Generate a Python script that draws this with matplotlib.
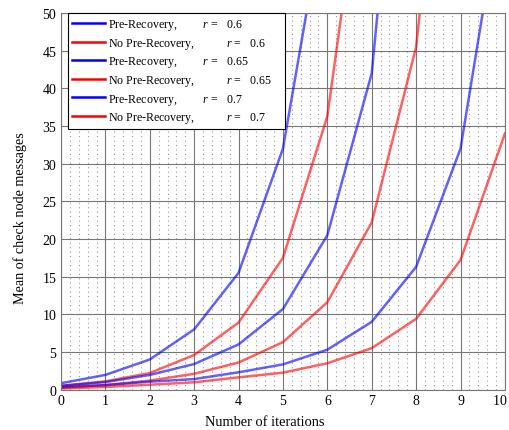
import matplotlib.pyplot as plt
from matplotlib.ticker import MultipleLocator
from matplotlib.lines import Line2D

plt.rcParams['font.family'] = ['Liberation Serif', 'DejaVu Serif']
plt.rcParams['mathtext.fontset'] = 'custom'
plt.rcParams['mathtext.it'] = 'Liberation Serif:italic'

iters = [0, 1, 2, 3, 4, 5, 6, 7, 8, 9, 10]
# trailing spaces nudge the last label left so it stays inside the figure
xtick_labels = ['0', '1', '2', '3', '4', '5', '6', '7', '8', '9', '10   ']

pre_06 = [0.85, 1.95, 4.0, 8.0, 15.5, 32.0, 66.0]
nopre_06 = [0.5, 1.1, 2.2, 4.6, 8.9, 17.5, 36.3, 79.0]
pre_065 = [0.5, 1.0, 1.95, 3.4, 6.0, 10.7, 20.5, 42.0, 103.0]
nopre_065 = [0.25, 0.6, 1.2, 2.1, 3.6, 6.3, 11.6, 22.2, 45.5, 100.0]
pre_07 = [0.3, 0.6, 1.05, 1.4, 2.3, 3.35, 5.3, 9.0, 16.3, 32.0, 68.0]
nopre_07 = [0.15, 0.35, 0.65, 0.97, 1.63, 2.25, 3.5, 5.5, 9.4, 17.2, 34.0]

series = [pre_06, nopre_06, pre_065, nopre_065, pre_07, nopre_07]
labels = ["Pre-Recovery,         $r$ =   0.6",
          "No Pre-Recovery,           $r$ =   0.6",
          "Pre-Recovery,         $r$ =   0.65",
          "No Pre-Recovery,           $r$ =   0.65    ",
          "Pre-Recovery,         $r$ =   0.7",
          "No Pre-Recovery,           $r$ =   0.7"]
colors = ['blue', 'red'] * 3

fig = plt.figure(figsize=(5.1, 4.31), dpi=100)
ax = fig.add_axes([0.1196, 0.0937, 0.8704, 0.8738])

for y, c in zip(series, colors):
    ax.plot(iters[:len(y)], y, color=c, alpha=0.62, lw=1.8)

ax.set_xlim(0, 10)
ax.set_ylim(0, 50)
ax.set_xticks(iters, xtick_labels)
ax.xaxis.set_minor_locator(MultipleLocator(0.2))
ax.yaxis.set_major_locator(MultipleLocator(5))
ax.grid(which='major', color='#777777', lw=0.8)
ax.grid(which='minor', axis='x', color='#999999', lw=0.8, ls=(0, (1, 3)))
ax.tick_params(which='both', direction='in', length=0, labelsize=10)
for s in ax.spines.values():
    s.set_color('#777777')

ax.set_xlabel("Number of iterations", fontsize=10.4)
ax.set_ylabel("Mean of check node messages", fontsize=10.2)
ax.xaxis.set_label_coords(0.46, -0.067)
ax.yaxis.set_label_coords(-0.077, 0.458)

handles = [Line2D([], [], color=c, lw=1.8) for c in colors]
leg = ax.legend(handles, labels, loc='upper left', bbox_to_anchor=(0.0158, 1.0),
                fontsize=8.6, fancybox=False, framealpha=1, edgecolor='black',
                borderaxespad=0, handlelength=2.75, handletextpad=0.25,
                labelspacing=0.3, borderpad=0.35)
leg.get_frame().set_linewidth(0.8)

fig.savefig("out.png", dpi=100)
